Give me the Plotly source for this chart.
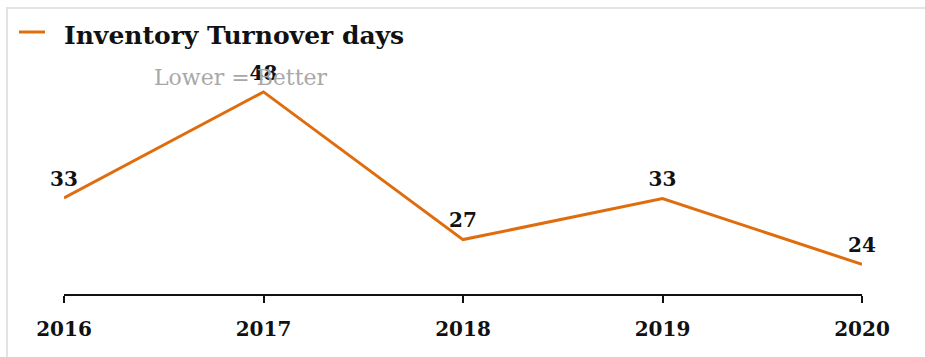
import plotly.graph_objects as go

years = [2016, 2017, 2018, 2019, 2020]
turnover_days = [33.0, 48.0, 27.1, 32.9, 23.6]
labels = [f"{round(v)}" for v in turnover_days]
title_text = "Inventory Turnover days"
note_text = "Lower = Better"

W, H = 925, 357
L, R, T, B = 64, 63, 70, 63
pw, ph = W - L - R, H - T - B
def px(x):
    return (x - L) / pw
def py(y):
    return (H - B - y) / ph

orange = "#DF6D0E"
serif = "DejaVu Serif"

fig = go.Figure()
fig.add_trace(go.Scatter(
    x=years, y=turnover_days, mode="lines+markers+text",
    text=labels, textposition="top center",
    textfont=dict(family=serif, size=20, color="#111", weight="bold"),
    line=dict(color=orange, width=3),
    marker=dict(size=10, color="rgba(0,0,0,0)"),
    cliponaxis=False, showlegend=False, hoverinfo="skip",
))

fig.update_layout(
    width=W, height=H,
    margin=dict(l=L, r=R, t=T, b=B),
    paper_bgcolor="white", plot_bgcolor="white",
    xaxis=dict(range=[2016, 2020], tickvals=years, ticktext=[str(y) for y in years],
               showgrid=False, zeroline=False, showline=True, linecolor="#111", linewidth=2,
               ticks="outside", ticklen=7, tickwidth=2, tickcolor="#111",
               tickfont=dict(family=serif, size=20, color="#111", weight="bold"), ticklabelstandoff=9),
    yaxis=dict(range=[19.4, 51.1], visible=False, showgrid=False, zeroline=False),
    font=dict(family=serif),
    shapes=[
        dict(type="rect", xref="paper", yref="paper",
             x0=px(7), x1=px(940), y0=py(8), y1=py(380),
             line=dict(color="#e3e3e3", width=2), fillcolor="rgba(0,0,0,0)", layer="below"),
        dict(type="line", xref="paper", yref="paper",
             x0=px(19), x1=px(45), y0=py(32), y1=py(32),
             line=dict(color=orange, width=3)),
    ],
    annotations=[
        dict(text=f"<b>{title_text}</b>", xref="paper", yref="paper",
             x=px(62), y=py(35), xanchor="left", yanchor="middle", showarrow=False,
             font=dict(family=serif, size=25, color="#111")),
        dict(text=note_text, xref="paper", yref="paper",
             x=px(241), y=py(77), xanchor="center", yanchor="middle", showarrow=False,
             font=dict(family=serif, size=22, color="#a8a8a8")),
    ],
)

fig.write_html("out.html")
